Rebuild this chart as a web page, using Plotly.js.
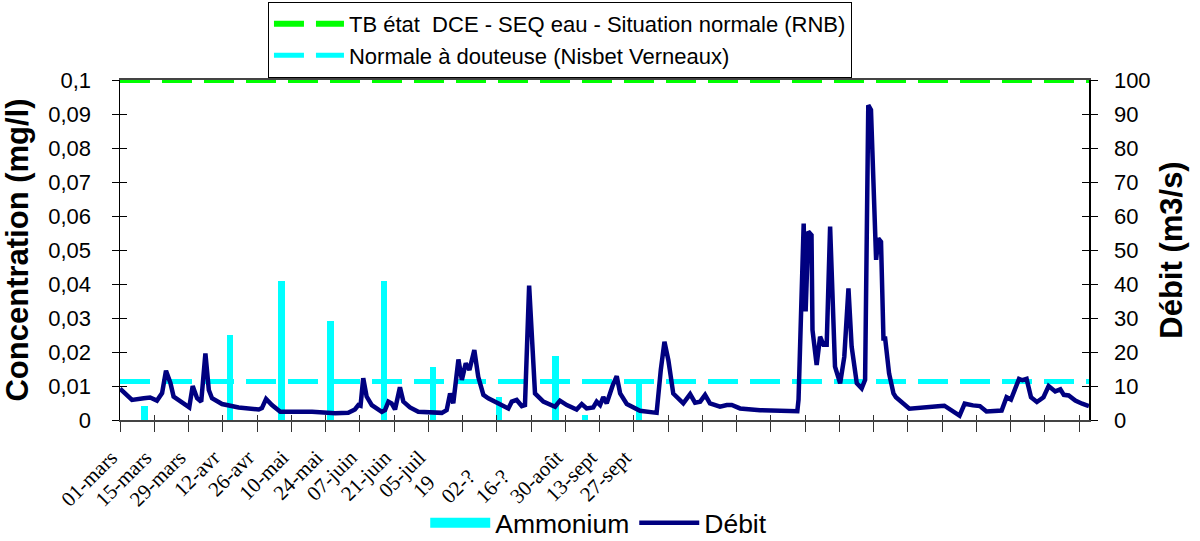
<!DOCTYPE html>
<html>
<head>
<meta charset="utf-8">
<script src="https://cdn.plot.ly/plotly-3.0.1.min.js"></script>
<style>html,body{margin:0;padding:0;background:#fff;}#chart{width:1200px;height:541px;}</style>
</head>
<body>
<div id="chart"></div>
<script>
// Days counted from 01-mars
const tickDays = [0,14,28,42,56,70,84,98,112,126,140,154,168,182,196,210,224,238,252,266,280,294,308,322,336,350,364,378,392];
const tickLabels = ['01-mars','15-mars','29-mars','12-avr','26-avr','10-mai','24-mai','07-juin','21-juin','05-juil',
  '19<span style="color:rgba(0,0,0,0)">-juil</span>',
  '02-?<span style="color:rgba(0,0,0,0)">oût</span>',
  '16-?<span style="color:rgba(0,0,0,0)">oût</span>',
  '30-août','13-sept','27-sept','','','','','','','','','','','','',''];

// Ammonium (mg/l)
const ammoniumDays = [10, 45, 66, 86, 108, 128, 155, 178, 190, 212];
const ammoniumValues = [0.004, 0.025, 0.041, 0.029, 0.041, 0.0155, 0.0068, 0.0187, 0.0015, 0.0116];

// Débit (m3/s)
const flowDays = [0,1,4.9,9.7,12.3,15.1,17.2,18.8,20.6,21.9,25.3,28.3,29.7,31.5,33.2,34.9,36.3,37.6,41.7,48.5,56.7,58,59.7,62.1,65.5,78.5,87.9,93.3,96,97.4,98.3,99.4,100.8,102.9,107,108.3,109.7,111,112.4,114.4,115.8,118.5,121.9,131.5,133.5,134.9,136.2,138.3,139.7,141.3,142.8,144.8,146.4,148.5,150.5,153.3,156,158.7,160.1,162.1,164.2,165.5,167.2,168.3,169.6,173,177.8,179.8,182.6,186.6,188.7,190.7,193.4,194.8,196.2,197.5,198.9,201.4,203,204.4,207.1,212.5,219.3,221,222.5,224.1,226.1,230.2,233,235,237.1,239.1,241.1,245.2,248,250,253.4,261.6,275.2,276.8,277.3,279.4,280.2,281.3,282.6,283,284.7,286.1,287.5,288.8,290.2,292.2,294.3,296,297.7,299,301.1,303.1,304.5,305.2,305.8,306.9,308.3,309,309.9,311,312,312.7,314.3,316.1,317.1,322.6,335.5,336.9,343.1,345.2,348.6,351.4,354.1,360.3,362.3,364.1,367.4,368.8,370.5,372.3,374.7,377.4,379.5,382.2,384.3,385.7,387.7,390.4,393.2,396];
const flowValues = [9.2,8.5,5.9,6.4,6.6,5.7,7.9,14.5,10.9,6.9,5.0,3.7,10.0,6.4,5.4,19.6,8.8,6.4,4.7,3.7,3.1,3.5,6.2,4.4,2.4,2.4,2.0,2.1,3.1,4.4,4.2,12.3,6.9,4.4,2.4,2.9,5.4,4.9,3.1,9.6,5.4,3.7,2.4,2.1,2.9,7.8,4.9,17.8,11.8,16.7,14.7,20.6,12.7,7.4,6.4,5.4,4.4,3.4,5.4,5.9,4.1,4.4,39.5,24.5,7.8,5.4,3.9,5.7,4.4,3.1,4.7,3.4,3.7,5.4,4.4,6.7,4.9,10.3,12.9,7.8,4.7,2.7,2.1,14.7,23.0,17.6,7.8,4.9,7.6,5.1,5.4,7.4,4.9,3.9,4.4,4.4,3.4,2.9,2.7,2.6,6.0,57.8,31.9,55.4,54.4,26.5,16.2,24.5,22.1,22.1,56.9,15.7,10.8,18.6,38.7,21.6,10.8,9.3,11.8,52.9,92.6,91.2,57.8,47.1,53.4,52.4,24.0,24.0,13.7,7.8,6.7,3.3,4.1,4.2,1.3,4.8,4.3,4.1,2.5,2.8,6.7,6.0,12.1,11.7,12.1,6.7,5.3,6.7,10.0,8.4,9.0,7.4,7.2,5.7,4.8,4.1];

// Reference thresholds (mg/l)
const seqThreshold = 0.1;
const nisbetThreshold = 0.0113;
const xStart = 0, xEnd = 396;

const concTicks = [0,0.01,0.02,0.03,0.04,0.05,0.06,0.07,0.08,0.09,0.1];
const concLabels = ['0','0,01','0,02','0,03','0,04','0,05','0,06','0,07','0,08','0,09','0,1'];
const flowTicks = [0,10,20,30,40,50,60,70,80,90,100];

const sans = 'Liberation Sans, Arial, sans-serif';
const serif = 'Liberation Serif, Times New Roman, serif';

const traces = [
  {type:'bar', name:'Ammonium', x:ammoniumDays, y:ammoniumValues, width:2.6,
   marker:{color:'#00FFFF', line:{width:0}}, legend:'legend2', legendgroup:'amm', showlegend:false,
   xaxis:'x', yaxis:'y'},
  {type:'scatter', mode:'lines', name:'Ammonium', x:[null], y:[null], legendgroup:'amm',
   line:{color:'#00FFFF', width:20}, legend:'legend2', xaxis:'x', yaxis:'y', hoverinfo:'skip'},
  {type:'scatter', mode:'lines', name:'TB état\u00a0 DCE - SEQ eau - Situation normale (RNB)',
   x:[xStart,xEnd], y:[seqThreshold,seqThreshold], line:{color:'#00FF00', width:6, dash:'30px,12px'},
   legend:'legend', xaxis:'x', yaxis:'y'},
  {type:'scatter', mode:'lines', name:'Normale à douteuse (Nisbet Verneaux)',
   x:[xStart,xEnd], y:[nisbetThreshold,nisbetThreshold], line:{color:'#00FFFF', width:5, dash:'30px,12px'},
   legend:'legend', xaxis:'x', yaxis:'y'},
  {type:'scatter', mode:'lines', name:'Débit', x:flowDays, y:flowValues,
   line:{color:'#000080', width:4.5}, legend:'legend2', xaxis:'x', yaxis:'y2'},
  {type:'scatter', mode:'lines', x:[null], y:[null], xaxis:'x2', yaxis:'y3', showlegend:false, hoverinfo:'skip'},
  {type:'scatter', mode:'lines', x:[null], y:[null], xaxis:'x2', yaxis:'y4', showlegend:false, hoverinfo:'skip'}
];

const layout = {
  width:1200, height:541,
  margin:{l:120, r:111, t:80, b:121, autoexpand:false},
  paper_bgcolor:'#fff', plot_bgcolor:'#fff',
  showlegend:true,
  bargap:0,
  font:{family:sans, color:'#000'},
  xaxis:{range:[xStart,xEnd], tickmode:'array', tickvals:tickDays, ticktext:tickLabels,
    tickangle:-45, tickfont:{family:serif, size:21, color:'#000'},
    ticks:'outside', ticklen:10, tickcolor:'#333', ticklabelstandoff:5, ticklabelshift:-9,
    showline:true, linecolor:'#444', linewidth:2, mirror:true,
    showgrid:false, zeroline:false, automargin:false},
  xaxis2:{overlaying:'x', range:[xStart,xEnd], tickmode:'array', tickvals:tickDays,
    ticks:'inside', ticklen:5, tickcolor:'#333', showticklabels:false, showline:false,
    showgrid:false, zeroline:false, anchor:'y'},
  yaxis:{range:[0,0.1], tickmode:'array', tickvals:concTicks, ticktext:concLabels,
    ticks:'outside', ticklen:7, tickcolor:'#000', ticklabelstandoff:16,
    tickfont:{family:sans, size:22, color:'#000'}, automargin:false,
    showline:true, linecolor:'#000', linewidth:1.5, showgrid:false, zeroline:false,
    title:{text:'Concentration (mg/l)', font:{family:sans, size:31, color:'#000', weight:'bold'}, standoff:12}},
  yaxis2:{overlaying:'y', side:'right', anchor:'x', range:[0,100], tickmode:'array', tickvals:flowTicks,
    ticks:'outside', ticklen:7, tickcolor:'#000', ticklabelstandoff:12, automargin:false,
    tickfont:{family:sans, size:22, color:'#000'},
    showline:true, linecolor:'#000', linewidth:1.5, showgrid:false, zeroline:false,
    title:{text:'Débit (m3/s)', font:{family:sans, size:31, color:'#000', weight:'bold'}, standoff:10}},
  yaxis3:{overlaying:'y', side:'left', anchor:'x2', range:[0,0.1], tickmode:'array', tickvals:concTicks,
    ticks:'inside', ticklen:7, tickcolor:'#000', showticklabels:false, showline:false, showgrid:false, zeroline:false},
  yaxis4:{overlaying:'y', side:'right', anchor:'x2', range:[0,100], tickmode:'array', tickvals:flowTicks,
    ticks:'inside', ticklen:7, tickcolor:'#000', showticklabels:false, showline:false, showgrid:false, zeroline:false},
  legend:{x:0.1527, y:1.2295, xanchor:'left', yanchor:'top', orientation:'v',
    bgcolor:'#fff', bordercolor:'#000', borderwidth:1, itemwidth:70,
    font:{family:sans, size:22, color:'#000'}, tracegroupgap:0},
  legend2:{x:0.315, y:-0.303, xanchor:'left', yanchor:'middle', orientation:'h',
    bgcolor:'rgba(0,0,0,0)', borderwidth:0, itemwidth:60,
    font:{family:sans, size:26.5, color:'#000'}}
};

Plotly.newPlot('chart', traces, layout, {displayModeBar:false, staticPlot:true});
</script>
</body>
</html>
